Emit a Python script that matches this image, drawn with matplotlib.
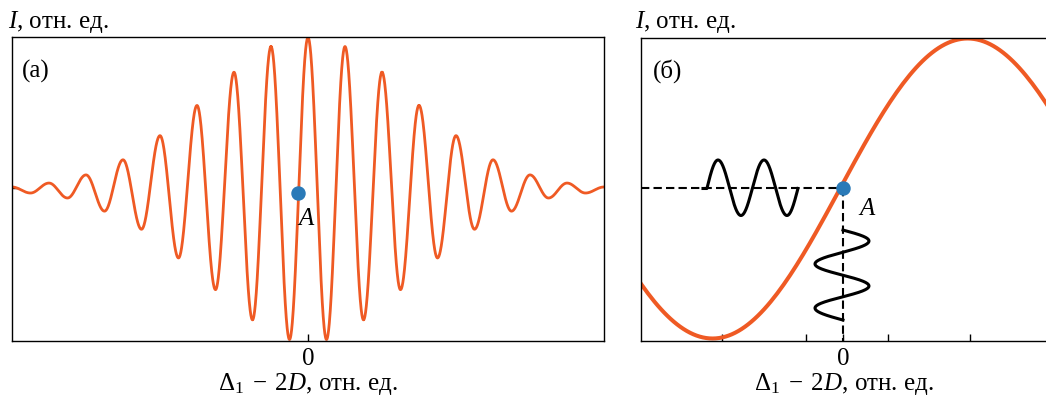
import numpy as np
import matplotlib.pyplot as plt

plt.rcParams['font.family'] = ['Liberation Serif', 'DejaVu Serif']
plt.rcParams['mathtext.fontset'] = 'custom'
plt.rcParams['mathtext.rm'] = 'Liberation Serif'
plt.rcParams['mathtext.it'] = 'Liberation Serif:italic'
plt.rcParams['lines.scale_dashes'] = False

# (а) interferogram: positions of maxima/minima (in fringe periods) and their values
left_x = [-8, -7.5, -7, -6.5, -6, -5.5, -5, -4.5, -4, -3.5, -3, -2.5, -2, -1.5, -1, -0.5,
          0, 0.5, 1, 1.5, 2, 2.5, 3, 3.5, 4, 4.5, 5, 5.5, 6, 6.5, 7, 7.5, 8]
left_I = [0.01, -0.03, 0.036, -0.063, 0.09, -0.15, 0.19, -0.27, 0.35, -0.46, 0.55, -0.67,
          0.77, -0.87, 0.94, -1.0, 1.0, -1.0, 0.94, -0.87, 0.77, -0.67, 0.55, -0.46, 0.35,
          -0.27, 0.19, -0.15, 0.09, -0.063, 0.036, -0.03, 0.01]
left_A = (-0.27, -0.03)

# (б) one fringe near point A: extrema of the curve
right_x = [-4.7, -1.59, 1.52, 4.63]
right_I = [1.0, -1.0, 1.0, -1.0]
right_ticks = [-1.47, -0.45, 0.55, 1.55]
right_A = (0.0, 0.0)

# small black waves (knots: x, y, derivative zero at knot?)
hw_x = [-1.707, -1.659, -1.524, -1.244, -0.963, -0.683, -0.549]
hw_y = [0.0, 0.0, 0.19, -0.18, 0.19, -0.18, 0.0]
hw_flat = [False, False, True, True, True, True, False]
vw_y = [-0.277, -0.35, -0.503, -0.65, -0.797, -0.877]
vw_x = [0.0, 0.317, -0.341, 0.317, -0.341, 0.0]
vw_flat = [False, True, True, True, True, False]

ORANGE = '#EF5A24'
BLUE = '#2A7AB8'


def smooth(xk, yk, flat=None):
    # join knots with cosine pieces (flat = zero slope at that knot)
    if flat is None:
        flat = [True] * len(xk)
    xs, ys = [], []
    t = np.linspace(0, 1, 80)
    for i in range(len(xk) - 1):
        a, b = flat[i], flat[i + 1]
        if a and b:
            s = (1 - np.cos(np.pi * t)) / 2
        elif b:
            s = np.sin(np.pi * t / 2)
        elif a:
            s = 1 - np.cos(np.pi * t / 2)
        else:
            s = t
        xs.append(xk[i] + (xk[i + 1] - xk[i]) * t)
        ys.append(yk[i] + (yk[i + 1] - yk[i]) * s)
    return np.concatenate(xs), np.concatenate(ys)


W, H = 1046, 404
fs = 18
fig = plt.figure(figsize=(W / 100, H / 100), dpi=100)
ax1 = fig.add_axes([12 / W, 1 - 341 / H, 592 / W, 304 / H])
ax2 = fig.add_axes([641 / W, 1 - 341 / H, 405 / W, 303 / H])

# left panel
x, y = smooth(left_x, left_I)
ax1.plot(x, y, color=ORANGE, lw=2.0, solid_capstyle='round')
ax1.plot(*left_A, 'o', color=BLUE, ms=9.4, zorder=5)
ax1.set_xlim(-8, 8)
ax1.set_ylim(-1.01, 1.0033)
ax1.set_xticks([0])
ax1.set_xticklabels(['0'])
ax1.set_yticks([0])
ax1.set_yticklabels([])

# right panel
x, y = smooth(right_x, right_I)
xmin, xmax = -2.463, 2.476
ax2.plot(x, y, color=ORANGE, lw=2.9)
ax2.plot([xmin, 0], [0, 0], color='black', lw=1.5, dashes=(6, 3))
ax2.plot([0, 0], [0, -1.02], color='black', lw=1.5, dashes=(6, 3))
x, y = smooth(hw_x, hw_y, hw_flat)
ax2.plot(x, y, color='black', lw=2.2)
y, x = smooth(vw_y, vw_x, vw_flat)
ax2.plot(x, y, color='black', lw=2.2)
ax2.plot(*right_A, 'o', color=BLUE, ms=9.4, zorder=5)
ax2.set_xlim(xmin, xmax)
ax2.set_ylim(-1.0167, 1.0033)
ax2.set_xticks([0])
ax2.set_xticklabels(['0'])
ax2.set_xticks(right_ticks, minor=True)
ax2.set_yticks([])
ax2.spines['right'].set_visible(False)
ax2.tick_params(axis='x', which='major', length=0)

for ax in (ax1, ax2):
    ax.tick_params(direction='in', length=5, width=1, labelsize=fs, pad=5)
    ax.tick_params(which='minor', direction='in', length=5, width=1)
    for s in ax.spines.values():
        s.set_linewidth(1.0)
    ax.set_xlabel(r'$\Delta_1\;-\;2D$, отн. ед.', fontsize=fs, labelpad=1)

fig.text(8 / W, 1 - 28 / H, r'$I$, отн. ед.', fontsize=fs, va='baseline')
fig.text(635 / W, 1 - 28 / H, r'$I$, отн. ед.', fontsize=fs, va='baseline')
fig.text(22 / W, 1 - 78 / H, '(а)', fontsize=fs, va='baseline')
fig.text(653 / W, 1 - 78 / H, '(б)', fontsize=fs, va='baseline')
fig.text(298 / W, 1 - 225 / H, 'A', fontsize=fs, style='italic', va='baseline')
fig.text(859 / W, 1 - 215 / H, 'A', fontsize=fs, style='italic', va='baseline')

fig.savefig('out.png', dpi=100)
